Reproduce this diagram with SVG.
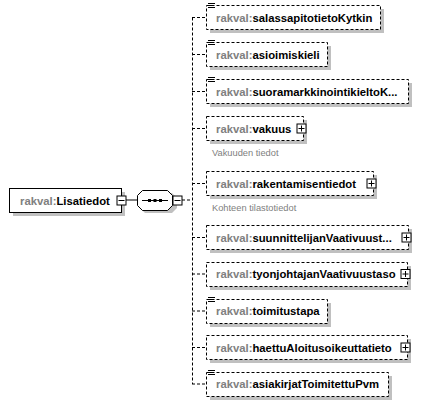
<svg xmlns="http://www.w3.org/2000/svg" width="422" height="406" viewBox="0 0 422 406">
<style>
.bg{fill:#fff}
.sh{fill:#c0c0c0}
.box{fill:#fff;stroke:#000;stroke-width:1}
.opt{fill:#fff;stroke:#000;stroke-width:1;stroke-dasharray:3,2}
.t{font-family:"Liberation Sans",Arial,sans-serif;font-size:11.3px;font-weight:bold;fill:#000}
.p{fill:#808080}
.ann{font-family:"Liberation Sans",Arial,sans-serif;font-size:9.3px;fill:#808080}
.ln{stroke:#000;stroke-width:1;fill:none}
.dl{stroke:#000;stroke-width:1;fill:none;stroke-dasharray:3,2}
.btn{fill:#fff;stroke:#000;stroke-width:1}
</style>
<defs>
<g id="plus"><rect class="btn" x="-4.5" y="-4.5" width="9" height="9"/><path class="ln" d="M-3,0H3M0,-3V3"/></g>
<g id="minus"><rect class="btn" x="-4.5" y="-4.5" width="9" height="9"/><path class="ln" d="M-3,0H3"/></g>
<g id="doc"><path class="ln" d="M0,0H7M0,2H5M0,4H7"/></g>
</defs>
<rect class="bg" width="422" height="406"/>
<g id="connectors">
<path class="ln" d="M126,200H137"/>
<path class="dl" d="M182,200H192"/>
<path class="dl" d="M192.5,17.5V384"/>
<path class="dl" d="M192,17.5H206M192,54.5H206M192,91.5H206M192,128.5H206M192,183.5H206M192,237.5H206M192,274H206M192,311H206M192,347.5H206M192,384H206"/>
</g>
<g id="node-Lisatiedot">
<rect class="sh" x="13" y="192" width="112" height="24"/>
<rect class="box" x="9.5" y="188.5" width="112" height="24"/>
<text class="t" x="20" y="204.5"><tspan class="p">rakval:</tspan>Lisatiedot</text>
<use href="#minus" x="121.5" y="200.5"/>
</g>
<g id="node-sequence">
<path class="sh" d="M145,193H172L177,198V208L172,213H145L140,208V198Z"/>
<path class="box" d="M142.5,190.5H167.5L172.5,195.5V205.5L167.5,210.5H142.5L137.5,205.5V195.5Z"/>
<path class="ln" d="M142,200.5H168"/>
<rect x="148" y="199" width="3" height="3" fill="#000"/>
<rect x="153.5" y="199" width="3" height="3" fill="#000"/>
<rect x="159" y="199" width="3" height="3" fill="#000"/>
<use href="#minus" x="177.5" y="200.5"/>
</g>
<g id="node-salassapitotietoKytkin">
<rect class="sh" x="210" y="9" width="174" height="24"/>
<rect class="opt" x="206.5" y="5.5" width="174" height="24"/>
<use href="#doc" x="208" y="3.5"/>
<text class="t" x="216" y="21.5"><tspan class="p">rakval:</tspan>salassapitotietoKytkin</text>
</g>
<g id="node-asioimiskieli">
<rect class="sh" x="210" y="46" width="121" height="24"/>
<rect class="opt" x="206.5" y="42.5" width="121" height="24"/>
<use href="#doc" x="208" y="40.5"/>
<text class="t" x="216" y="58.5"><tspan class="p">rakval:</tspan>asioimiskieli</text>
</g>
<g id="node-suoramarkkinointikieltoK">
<rect class="sh" x="210" y="83" width="202" height="24"/>
<rect class="opt" x="206.5" y="79.5" width="202" height="24"/>
<use href="#doc" x="208" y="77.5"/>
<text class="t" x="216" y="95.5"><tspan class="p">rakval:</tspan>suoramarkkinointikieltoK...</text>
</g>
<g id="node-vakuus">
<rect class="sh" x="210" y="120" width="97" height="24"/>
<rect class="opt" x="206.5" y="116.5" width="97" height="24"/>
<text class="t" x="216" y="132.5"><tspan class="p">rakval:</tspan>vakuus</text>
<use href="#plus" x="301.5" y="128.5"/>
<text class="ann" x="212" y="156">Vakuuden tiedot</text>
</g>
<g id="node-rakentamisentiedot">
<rect class="sh" x="210" y="175" width="167" height="24"/>
<rect class="opt" x="206.5" y="171.5" width="167" height="24"/>
<text class="t" x="216" y="187.5"><tspan class="p">rakval:</tspan>rakentamisentiedot</text>
<use href="#plus" x="371.5" y="183.5"/>
<text class="ann" x="212" y="211">Kohteen tilastotiedot</text>
</g>
<g id="node-suunnittelijanVaativuust">
<rect class="sh" x="210" y="229" width="202" height="24"/>
<rect class="opt" x="206.5" y="225.5" width="202" height="24"/>
<text class="t" x="216" y="241.5"><tspan class="p">rakval:</tspan>suunnittelijanVaativuust...</text>
<use href="#plus" x="406.5" y="237.5"/>
</g>
<g id="node-tyonjohtajanVaativuustaso">
<rect class="sh" x="210" y="266" width="201" height="24"/>
<rect class="opt" x="206.5" y="262.5" width="201" height="24"/>
<text class="t" x="216" y="278"><tspan class="p">rakval:</tspan>tyonjohtajanVaativuustaso</text>
<use href="#plus" x="405.5" y="274"/>
</g>
<g id="node-toimitustapa">
<rect class="sh" x="210" y="303" width="121" height="24"/>
<rect class="opt" x="206.5" y="299.5" width="121" height="24"/>
<use href="#doc" x="208" y="297.5"/>
<text class="t" x="216" y="315"><tspan class="p">rakval:</tspan>toimitustapa</text>
</g>
<g id="node-haettuAloitusoikeuttatieto">
<rect class="sh" x="210" y="339" width="201" height="24"/>
<rect class="opt" x="206.5" y="335.5" width="201" height="24"/>
<text class="t" x="216" y="351.5"><tspan class="p">rakval:</tspan>haettuAloitusoikeuttatieto</text>
<use href="#plus" x="405.5" y="347.5"/>
</g>
<g id="node-asiakirjatToimitettuPvm">
<rect class="sh" x="210" y="376" width="182" height="24"/>
<rect class="opt" x="206.5" y="372.5" width="182" height="24"/>
<use href="#doc" x="208" y="370.5"/>
<text class="t" x="216" y="388"><tspan class="p">rakval:</tspan>asiakirjatToimitettuPvm</text>
</g>
</svg>
